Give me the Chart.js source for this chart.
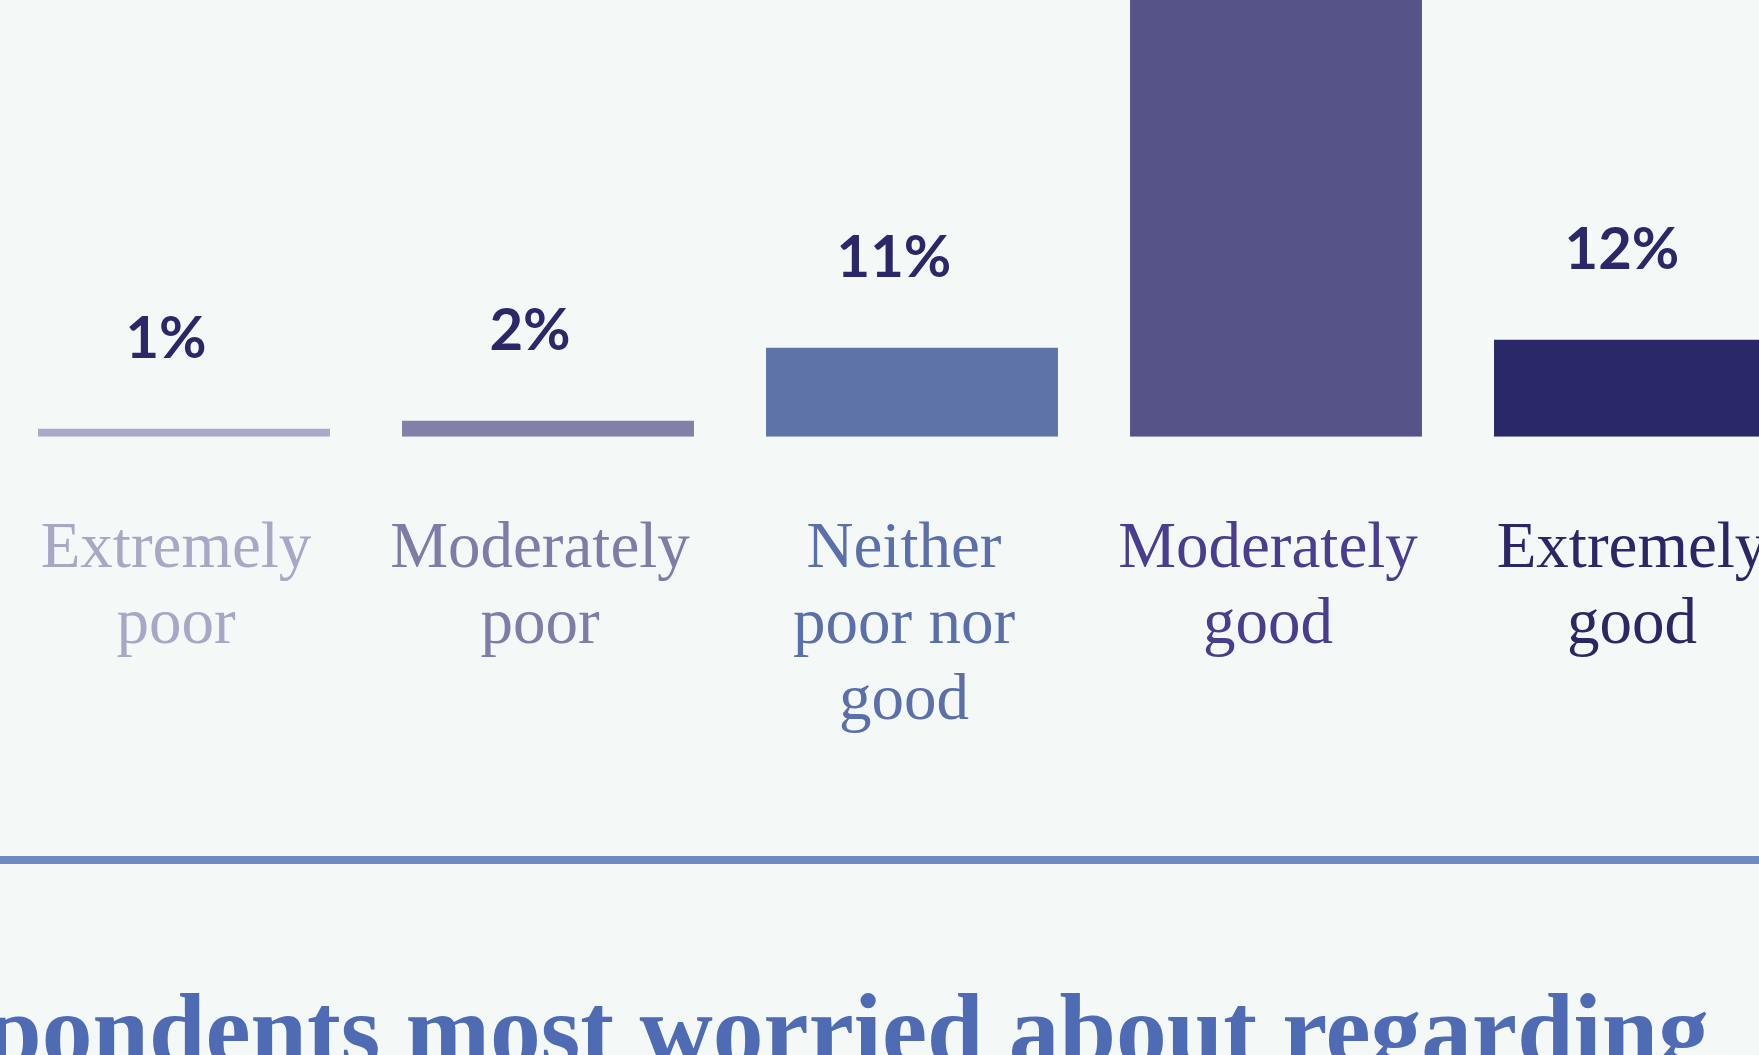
<!DOCTYPE html>
<html>
<head>
<meta charset="utf-8">
<script src="https://cdn.jsdelivr.net/npm/chart.js@4.4.0/dist/chart.umd.min.js"></script>
<style>
  html, body {
    margin: 0;
    padding: 0;
    width: 1759px;
    height: 1055px;
    overflow: hidden;
    background: #f4f8f7;
  }
  #rating-chart {
    position: absolute;
    left: 0;
    top: 0;
  }
  .divider {
    position: absolute;
    left: 0;
    top: 856px;
    width: 100%;
    height: 8px;
    background: #6f89c5;
  }
  .next-heading {
    position: absolute;
    right: 50px;
    top: 980px;
    margin: 0;
    white-space: nowrap;
    font-family: 'Liberation Serif', serif;
    font-weight: 700;
    font-size: 101.5px;
    line-height: 1;
    color: #4e6bb4;
  }
</style>
</head>
<body>
<canvas id="rating-chart" width="1822" height="740"></canvas>
<div class="divider"></div>
<h2 class="next-heading">respondents most worried about regarding</h2>

<script>
const categories = [
  ['Extremely', 'poor'],
  ['Moderately', 'poor'],
  ['Neither', 'poor nor', 'good'],
  ['Moderately', 'good'],
  ['Extremely', 'good'],
];
const shares = [1, 2, 11, 74, 12];
const valueLabels = ['1%', '2%', '11%', '74%', '12%'];
const barColors = ['#a9aac8', '#8280a9', '#5e74a9', '#565389', '#2a2868'];
const labelColors = ['#a8a8c6', '#7f7ca8', '#5b70aa', '#4a3d8f', '#2b2767'];

// percentage text above each bar
const valueLabelPlugin = {
  id: 'valueLabels',
  afterDatasetsDraw(chart) {
    const ctx = chart.ctx;
    const meta = chart.getDatasetMeta(0);
    ctx.save();
    ctx.font = '700 58px Lato';
    ctx.fillStyle = '#2b2869';
    ctx.textAlign = 'center';
    ctx.textBaseline = 'alphabetic';
    meta.data.forEach((bar, i) => {
      ctx.fillText(valueLabels[i], bar.x - 18, bar.y - 71);
    });
    ctx.restore();
  },
};

const ctx = document.getElementById('rating-chart').getContext('2d');

new Chart(ctx, {
  type: 'bar',
  data: {
    labels: categories,
    datasets: [
      {
        data: shares,
        backgroundColor: barColors,
        borderWidth: 0,
        barPercentage: 0.802,
        categoryPercentage: 1,
      },
    ],
  },
  options: {
    responsive: false,
    animation: false,
    layout: {
      padding: { left: 2, right: 0, top: 0, bottom: 0 },
    },
    plugins: {
      legend: { display: false },
      tooltip: { enabled: false },
    },
    scales: {
      x: {
        // tick marks stay hidden, tickLength only spaces the labels from the bars
        grid: { display: false, drawTicks: true, tickLength: 75 },
        border: { display: false },
        ticks: {
          padding: 0,
          labelOffset: -8,
          maxRotation: 0,
          autoSkip: false,
          color: (c) => labelColors[c.index],
          font: { family: 'Liberation Serif', size: 65, lineHeight: 1.17 },
        },
      },
      y: {
        display: false,
        min: 0,
        max: 54,
      },
    },
  },
  plugins: [valueLabelPlugin],
});
</script>
</body>
</html>
